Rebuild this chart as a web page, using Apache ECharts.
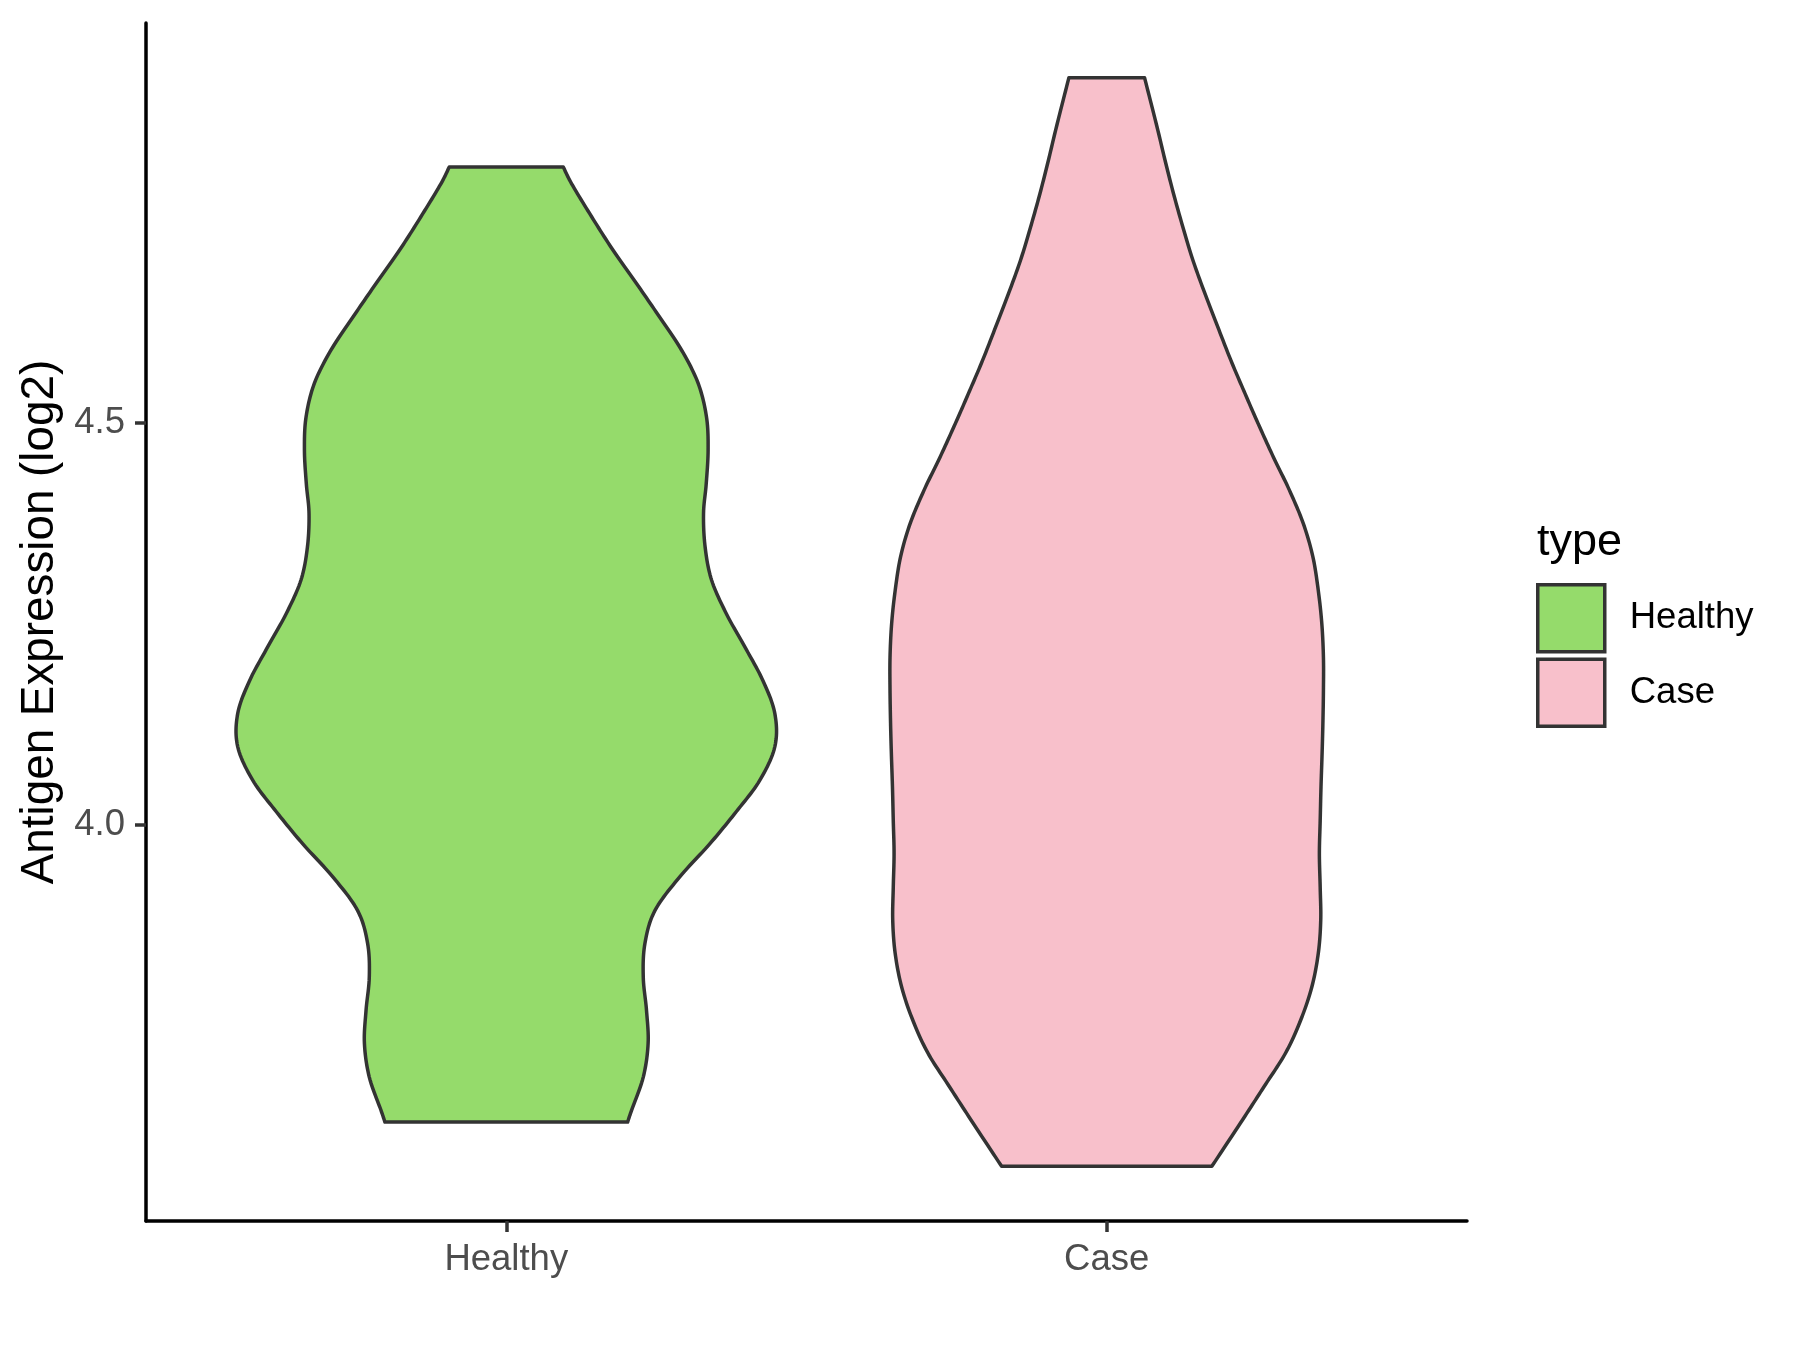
<!DOCTYPE html>
<html>
<head>
<meta charset="utf-8">
<script src="https://cdn.jsdelivr.net/npm/echarts@6/dist/echarts.min.js"></script>
<style>
  html, body { margin: 0; padding: 0; background: #ffffff; }
  #chart { width: 1800px; height: 1350px; }
</style>
</head>
<body>
<div id="chart"></div>
<script>
// ---------------- data ----------------
const categories = ['Healthy', 'Case'];
const yTickValues = [4.0, 4.5];
const yMin = 3.507;
const yMax = 4.997;

// Healthy violin: expression values (top to bottom) and relative density (max = 1)
const healthyY = [4.818, 4.797, 4.756, 4.714, 4.673, 4.631, 4.590, 4.549, 4.507, 4.466,
  4.424, 4.387, 4.345, 4.304, 4.262, 4.221, 4.179, 4.138, 4.097,
  4.055, 4.016, 3.976, 3.935, 3.893, 3.852, 3.810, 3.769, 3.728, 3.686, 3.645, 3.630];
const healthyDensity = [0.211, 0.242, 0.316, 0.396, 0.482, 0.568, 0.649, 0.710, 0.741, 0.747,
  0.740, 0.730, 0.736, 0.760, 0.815, 0.883, 0.950, 0.994, 0.994,
  0.938, 0.851, 0.753, 0.642, 0.550, 0.513, 0.507, 0.519, 0.525, 0.507, 0.464, 0.449];

// Case violin
const caseY = [4.929, 4.868, 4.826, 4.785, 4.743, 4.702, 4.660, 4.619, 4.577, 4.536,
  4.499, 4.457, 4.416, 4.374, 4.333, 4.291, 4.250, 4.208, 4.167, 4.126,
  4.088, 4.047, 4.005, 3.964, 3.922, 3.881, 3.840, 3.798, 3.757, 3.716,
  3.674, 3.633, 3.575];
const caseDensity = [0.140, 0.186, 0.216, 0.247, 0.282, 0.319, 0.364, 0.411, 0.460, 0.512,
  0.560, 0.617, 0.676, 0.728, 0.763, 0.783, 0.796, 0.802, 0.802, 0.800,
  0.797, 0.793, 0.790, 0.787, 0.790, 0.792, 0.783, 0.759, 0.718, 0.662,
  0.582, 0.503, 0.389];

const colors = { Healthy: '#95DB6B', Case: '#F8C0CB' };
const FONT = '"Liberation Sans", Arial, sans-serif';
const HALF_WIDTH = 0.45; // violin max half width in category units

// ---------------- rendering helpers ----------------
function catmullRom(pts, steps) {
  const out = [];
  const n = pts.length;
  for (let i = 0; i < n - 1; i++) {
    const p0 = pts[Math.max(i - 1, 0)], p1 = pts[i], p2 = pts[i + 1], p3 = pts[Math.min(i + 2, n - 1)];
    const c1 = [p1[0] + (p2[0] - p0[0]) / 6, p1[1] + (p2[1] - p0[1]) / 6];
    const c2 = [p2[0] - (p3[0] - p1[0]) / 6, p2[1] - (p3[1] - p1[1]) / 6];
    for (let s = 0; s < steps; s++) {
      const t = s / steps, u = 1 - t;
      out.push([
        u*u*u*p1[0] + 3*u*u*t*c1[0] + 3*u*t*t*c2[0] + t*t*t*p2[0],
        u*u*u*p1[1] + 3*u*u*t*c1[1] + 3*u*t*t*c2[1] + t*t*t*p2[1]
      ]);
    }
  }
  out.push(pts[n - 1]);
  return out;
}

function violinSeries(name, idx, ys, dens) {
  return {
    name: name,
    type: 'custom',
    itemStyle: { color: colors[name] },
    data: [[idx + 1, ys[0]]],
    renderItem: function (params, api) {
      const center = idx + 1;
      const right = ys.map((y, i) => api.coord([center + dens[i] * HALF_WIDTH, y]));
      const left = ys.map((y, i) => api.coord([center - dens[i] * HALF_WIDTH, y])).reverse();
      const pts = catmullRom(right, 12).concat(catmullRom(left, 12));
      return {
        type: 'polygon',
        shape: { points: pts },
        style: { fill: colors[name], stroke: '#333333', lineWidth: 3.5, lineJoin: 'round' }
      };
    }
  };
}

// ---------------- chart ----------------
const chart = echarts.init(document.getElementById('chart'), null, { renderer: 'canvas' });
chart.setOption({
  animation: false,
  backgroundColor: '#ffffff',
  grid: { left: 146, right: 333, top: 23, bottom: 129 },
  xAxis: {
    type: 'value',
    min: 0.4,
    max: 2.6,
    splitLine: { show: false },
    axisLine: { show: true, lineStyle: { color: '#000000', width: 3.5 } },
    axisTick: {
      show: true, length: 11, customValues: categories.map((c, i) => i + 1),
      lineStyle: { color: '#333333', width: 3.5 }
    },
    axisLabel: {
      show: true, customValues: categories.map((c, i) => i + 1),
      formatter: v => categories[Math.round(v) - 1] || '',
      color: '#4D4D4D', fontSize: 36.5, fontFamily: FONT, margin: 20
    }
  },
  yAxis: {
    type: 'value',
    min: yMin,
    max: yMax,
    name: 'Antigen Expression (log2)',
    nameLocation: 'middle',
    nameGap: 83,
    nameRotate: 90,
    nameTextStyle: { color: '#000000', fontSize: 45.8, fontFamily: FONT },
    splitLine: { show: false },
    axisLine: { show: true, lineStyle: { color: '#000000', width: 3.5 } },
    axisTick: {
      show: true, length: 11, customValues: yTickValues,
      lineStyle: { color: '#333333', width: 3.5 }
    },
    axisLabel: {
      show: true, customValues: yTickValues,
      formatter: v => v.toFixed(1),
      color: '#4D4D4D', fontSize: 36.5, fontFamily: FONT, margin: 21
    }
  },
  legend: {
    orient: 'vertical',
    left: 1531,
    top: 578,
    data: categories,
    icon: 'rect',
    itemWidth: 67,
    itemHeight: 67,
    itemGap: 4,
    itemStyle: { borderColor: '#333333', borderWidth: 3.5 },
    textStyle: { color: '#000000', fontSize: 36.5, fontFamily: FONT, padding: [0, 0, 0, 20] }
  },
  graphic: [{
    type: 'text',
    left: 1537,
    top: 520,
    style: { text: 'type', fill: '#000000', fontSize: 45, fontFamily: FONT }
  }],
  series: [
    violinSeries('Healthy', 0, healthyY, healthyDensity),
    violinSeries('Case', 1, caseY, caseDensity)
  ]
});
</script>
</body>
</html>
